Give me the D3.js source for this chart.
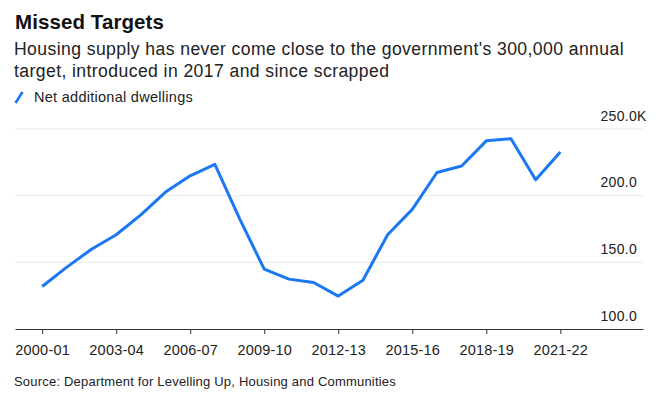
<!DOCTYPE html>
<html>
<head>
<meta charset="utf-8">
<script src="https://cdn.jsdelivr.net/npm/d3@7"></script>
<style>
  html, body { margin: 0; padding: 0; background: #fff; }
  svg { display: block; font-family: "Liberation Sans", Arial, sans-serif; }
</style>
</head>
<body>
<svg id="chart" width="660" height="401"></svg>
<script>
const years = ["2000-01","2001-02","2002-03","2003-04","2004-05","2005-06","2006-07","2007-08","2008-09","2009-10","2010-11","2011-12","2012-13","2013-14","2014-15","2015-16","2016-17","2017-18","2018-19","2019-20","2020-21","2021-22"];
const netAdditions = [131.9, 146.4, 159.8, 170.7, 185.6, 202.7, 214.9, 223.5, 182.8, 144.9, 137.4, 134.9, 124.7, 136.6, 170.7, 189.7, 217.4, 222.2, 241.1, 242.7, 211.9, 232.8];
const xTickLabels = ["2000-01","2003-04","2006-07","2009-10","2012-13","2015-16","2018-19","2021-22"];
const yTicks = [100, 150, 200, 250];
const yTickLabels = ["100.0", "150.0", "200.0", "250.0"];

const svg = d3.select("#chart");
const blue = "#1b78f2";

const x = d3.scaleLinear().domain([-1.1, 24.35]).range([15, 643]);
const y = d3.scaleLinear().domain([100, 250]).range([329, 129]);

// fit a text element to a target width by letter-spacing
function fitWidth(sel, target) {
  const node = sel.node();
  const n = node.getNumberOfChars();
  const w = node.getComputedTextLength();
  const ls = (target - w) / n;
  sel.attr("letter-spacing", ls);
  return ls;
}

// Title & subtitle
const title = svg.append("text").attr("x", 15).attr("y", 29)
  .attr("font-size", 20.5).attr("font-weight", "bold").attr("fill", "#111")
  .text("Missed Targets");
fitWidth(title, 149);

const sub1 = svg.append("text").attr("x", 14).attr("y", 55).attr("font-size", 17.6).attr("fill", "#222")
  .text("Housing supply has never come close to the government's 300,000 annual");
const ls = fitWidth(sub1, 610);
svg.append("text").attr("x", 14).attr("y", 77).attr("font-size", 17.6).attr("fill", "#222")
  .attr("letter-spacing", ls)
  .text("target, introduced in 2017 and since scrapped");

// Legend
svg.append("line").attr("x1", 15.5).attr("y1", 103).attr("x2", 22.5).attr("y2", 92)
  .attr("stroke", blue).attr("stroke-width", 2.6);
const leg = svg.append("text").attr("x", 34).attr("y", 102).attr("font-size", 14.5).attr("fill", "#222")
  .text("Net additional dwellings");
fitWidth(leg, 159);

// Gridlines
svg.append("g").selectAll("line").data(yTicks.filter(d => d > 100)).join("line")
  .attr("x1", 15).attr("x2", 643)
  .attr("y1", d => y(d)).attr("y2", d => y(d))
  .attr("stroke", "#e9e9e9").attr("stroke-width", 1);

// Y labels
const yl = svg.append("g").selectAll("text").data(yTicks).join("text")
  .attr("y", d => y(d) - 8.5)
  .attr("font-size", 14).attr("fill", "#222").attr("letter-spacing", 0.3)
  .text((d, i) => yTickLabels[i]);
yl.each(function() {
  const w = this.getComputedTextLength();
  d3.select(this).attr("x", 637 - w);
});
yl.filter(d => d === 250).append("tspan").text("K");

// X axis
const xAxis = d3.axisBottom(x)
  .tickValues(xTickLabels.map(l => years.indexOf(l)))
  .tickFormat(i => years[i])
  .tickSize(5).tickSizeOuter(0);
const gx = svg.append("g").attr("transform", `translate(0,${y(100)})`).call(xAxis);
gx.select(".domain").attr("stroke", "#333").attr("stroke-width", 1.2);
gx.selectAll(".tick line").attr("stroke", "#333");
gx.selectAll(".tick text").attr("font-size", 14.5).attr("fill", "#222").attr("letter-spacing", 0.2)
  .attr("font-family", "Liberation Sans, Arial, sans-serif").attr("dy", "0.71em").attr("y", 16);

// Line
const line = d3.line().x((d, i) => x(i)).y(d => y(d));
svg.append("path").datum(netAdditions)
  .attr("d", line).attr("fill", "none").attr("stroke", blue)
  .attr("stroke-width", 3).attr("stroke-linejoin", "round");

// Source
const src = svg.append("text").attr("x", 14).attr("y", 386).attr("font-size", 13).attr("fill", "#222")
  .text("Source: Department for Levelling Up, Housing and Communities");
fitWidth(src, 382);
</script>
</body>
</html>
